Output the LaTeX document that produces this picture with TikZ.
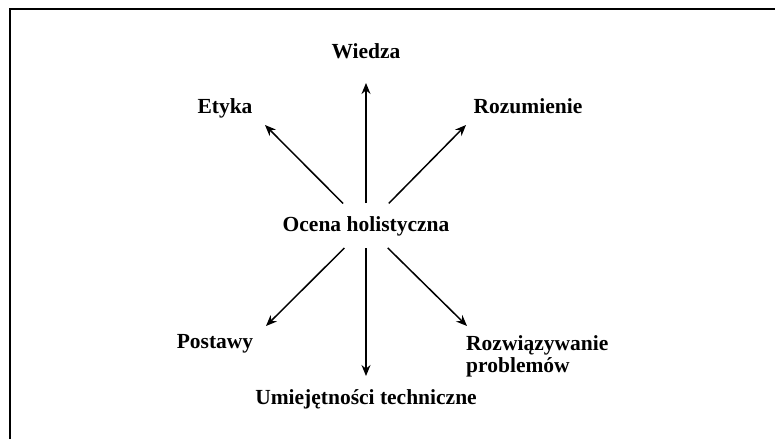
\documentclass[tikz,border=0pt]{standalone}
\usepackage{fontspec}
\setmainfont{Liberation Serif}
\usetikzlibrary{arrows.meta}
\begin{document}
\begin{tikzpicture}[x=1pt,y=-1pt,
  lbl/.style={font=\fontsize{21.5}{22}\selectfont\bfseries, inner sep=0pt, anchor=base},
  conn/.style={line width=1.5pt, -{Stealth[length=11pt,width=9pt]}}]
\useasboundingbox (0,0) rectangle (775,439);
\draw[line width=1.8pt] (10,439) -- (10,9) -- (775,9);
\node[lbl, anchor=center] (c) at (366,226.5) {Ocena holistyczna};
\node[lbl] (wiedza) at (366,58) {Wiedza};
\node[lbl] (etyka) at (225,113) {Etyka};
\node[lbl] (rozum) at (528,113) {Rozumienie};
\node[lbl] (postawy) at (215,348) {Postawy};
\node[lbl, anchor=north west, align=left] (rozw) at (466,335) {Rozwiązywanie\\problemów};
\node[lbl] (umiej) at (366,404) {Umiejętności techniczne};
\coordinate (tN) at (366,83);
\coordinate (tNW) at (265,125);
\coordinate (tNE) at (466,125);
\coordinate (tSW) at (266,326);
\coordinate (tSE) at (467,326);
\coordinate (tS) at (366,376);
\draw[conn, shorten <=23.5pt] (c.center) -- (tN);
\draw[conn, shorten <=32.5pt] (c.center) -- (tNW);
\draw[conn, shorten <=32.5pt] (c.center) -- (tNE);
\draw[conn, shorten <=30.5pt] (c.center) -- (tSW);
\draw[conn, shorten <=30.5pt] (c.center) -- (tSE);
\draw[conn, shorten <=21.5pt] (c.center) -- (tS);
\end{tikzpicture}
\end{document}
